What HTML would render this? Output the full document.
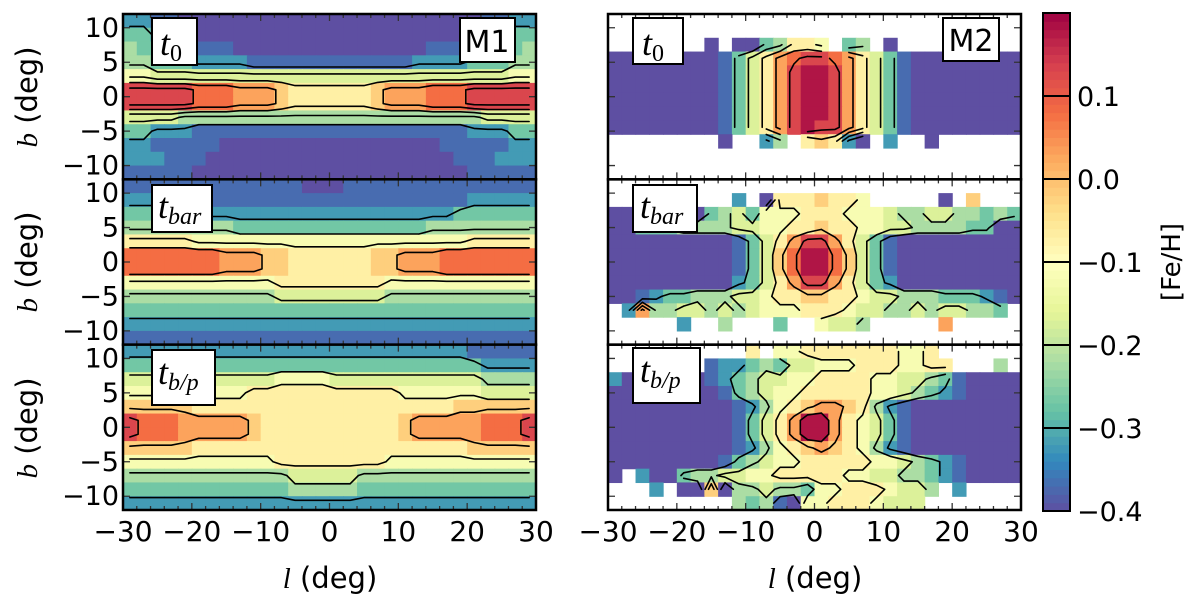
<!DOCTYPE html>
<html><head><meta charset="utf-8"><style>
html,body{margin:0;padding:0;background:#fff}
svg{display:block}
text{font-family:"DejaVu Sans","Liberation Sans",sans-serif;fill:#000}
</style></head><body>
<svg id="fig" width="1200" height="606" viewBox="0 0 1200 606" xmlns="http://www.w3.org/2000/svg">
<defs id="defs"></defs>
<g id="maps"></g>
<g id="cbar"></g>
</svg>
<script>
// ---- data: each char is one 2x2 deg cell; '0'..'9' => -0.42+0.05*d, 'a'=0.08,'b'=0.13,'c'=0.18, '.' = no data
const M1_T0 = [
"221100000000000000000000001122",
"332110000000000000000000011233",
"433221110000000000000011122334",
"443332222111111111111222233344",
"665555555555555555555555555566",
"bbbbbaaa999877777789 99aaabbbbb".replace(' ',''),
"bbbbbaaa999877777789 99aaabbbbb".replace(' ',''),
"555544444444444444444444445555",
"332221111111111111111111122233",
"221111100000000000000001111122",
"222111000000000000000000111222",
"111110000000000000000000011111"];
const M1_TBAR = [
"111111111111100011111111111111",
"222221111111111111111111122222",
"333333222222222222222222333333",
"444444443333333333333344444444",
"777776666666666666666666677777",
"aaaaaaa9998877777788999aaaaaaa",
"aaaaaaa9998877777788999aaaaaaa",
"666666666667777777766666666666",
"444444444445555555544444444444",
"333333333333333333333333333333",
"222222222222222222222222222222",
"111111111111111111111111111111"];
const M1_TBP = [
"222222222222222222222222211111",
"333333333333333333333333332222",
"555555555556666555555555554444",
"666666666777777777776666665555",
"888887777777777777777777888888",
"baaa9999987777777777899999aaab",
"baaa9999987777777777899999aaab",
"888887777777777777777777788888",
"666666666667777777766666666666",
"444444444444555554444444444444",
"333333333333444443333333333333",
"222222222222222222222222222222"];
const M2_T0 = [
"..............................",
".......0.0034776.34.0........",
"0000000013579abba9753100000000",
"0000000013579bccb9753100000000",
"0000000013579bccb9753100000000",
"0000000013579bccb9753100000000",
"0000000013579bccb9753100000000",
"0000000013579bcbb9753100000000",
"........0..24.78720.2..0......",
"..............................",
"..............................",
".............................."];
const M2_TBAR = [
"..............................",
".........2.07778776.....0.8....",
"0000000345366677766654455443434",
"003334444556677877665544443300",
"00000000013579bb975310000000000",
"0000000001358acca853100000000000",
"0000000001358acca853100000000000",
"00000000023579bb975320000000000",
"001233444556778877655444333210",
".2944554545666777655445455443.",
".....2..4...3..6554.....9.....",
".............................."];
const M2_TBP = [
"..........7.667777777667......",
".......1223435566677766 77...4.".replace(' ',''),
"2000000123455667777665543100000",
"000000001345667777766543210000",
"000000000124678998742100000000",
"00000000013579cc976531000000000",
"00000000013579cc976531000000000",
"000000000124678987642100000000",
"000000001345667777766543210000",
"0.2003445566777776655443210000",
"...2.0080445443667776554.2....",
".........434106677765 55.......".replace(' ','')];
const CB_TICKS = [0.1, 0.0, -0.1, -0.2, -0.3, -0.4];
const CONTOUR_LEVELS = [-0.3, -0.2, -0.1, 0.0, 0.1];
const X_TICKS = [-30, -20, -10, 0, 10, 20, 30];
const Y_TICKS = [10, 5, 0, -5, -10];
const VMIN = -0.4, VMAX = 0.2;

const NS = 'http://www.w3.org/2000/svg';
function mk(tag, attrs, parent){const e=document.createElementNS(NS,tag);for(const k in attrs)e.setAttribute(k,attrs[k]);if(parent)parent.appendChild(e);return e;}
function parseGrid(rows){return rows.map(r=>{let s=r;while(s.length<30)s+=s[s.length-1];s=s.slice(0,30);return s.split('').map(ch=>{if(ch==='.')return NaN;if(ch>='0'&&ch<='9')return -0.42+0.05*(+ch);return 0.08+0.05*(ch.charCodeAt(0)-97);});});}
const STOPS=[[94,79,162],[50,136,189],[102,194,165],[171,221,164],[230,245,152],[255,255,191],[254,224,139],[253,174,97],[244,109,67],[213,62,79],[158,1,66]];
function cmap(v){let t=(v-VMIN)/(VMAX-VMIN);t=Math.max(0,Math.min(1,t))*10;const i=Math.min(9,Math.floor(t)),f=t-i;const a=STOPS[i],b=STOPS[i+1];
 return 'rgb('+a.map((c,k)=>Math.round(c+(b[k]-c)*f)).join(',')+')';}

const LX0=123, LX1=536, RX0=608, RX1=1021, PH=165.33;
const TOPS=[14, 14+PH, 14+2*PH];
const panels=[
 {data:M1_T0,x0:LX0,x1:LX1,row:0,dy:0,name:'m1-t0'},
 {data:M1_TBAR,x0:LX0,x1:LX1,row:1,dy:0,name:'m1-tbar'},
 {data:M1_TBP,x0:LX0,x1:LX1,row:2,dy:0,name:'m1-tbp'},
 {data:M2_T0,x0:RX0,x1:RX1,row:0,dy:10,name:'m2-t0'},
 {data:M2_TBAR,x0:RX0,x1:RX1,row:1,dy:0,name:'m2-tbar'},
 {data:M2_TBP,x0:RX0,x1:RX1,row:2,dy:0,name:'m2-tbp'}];
const maps=document.getElementById('maps');
const defs=document.getElementById('defs');
panels.forEach((p,pi)=>{
 const top=TOPS[p.row];
 const cl=mk('clipPath',{id:'clip'+pi},defs);
 mk('rect',{x:p.x0,y:top,width:p.x1-p.x0,height:PH},cl);
 const g=mk('g',{},maps);
 
 
 const gm=mk('g',{'clip-path':'url(#clip'+pi+')'},g);
 const xs=l=>p.x0+(l+30)/60*(p.x1-p.x0);
 const ys=b=>top+(12-b)/24*PH;
 const ysd=b=>ys(b)+p.dy;
 const grid=parseGrid(p.data);
 const cw=(p.x1-p.x0)/30, ch=PH/12;
 grid.forEach((row,j)=>row.forEach((v,i)=>{
  if(isNaN(v))return;
  const l=-30+2*i, b=12-2*j;
  const r=mk('rect',{x:xs(l).toFixed(2),y:ysd(b).toFixed(2),width:(cw+0.6).toFixed(2),height:(ch+0.6).toFixed(2),fill:cmap(v)},gm);
  
  
 }));
 const cx=i=>xs(-29+2*i), cy=j=>ysd(11-2*j);
 let d='';
 CONTOUR_LEVELS.forEach(L=>{
  for(let j=0;j<11;j++)for(let i=0;i<29;i++){
   const P=[[i,j],[i+1,j],[i+1,j+1],[i,j+1]];
   const V=P.map(q=>grid[q[1]][q[0]]);
   if(V.some(isNaN))continue;
   const pts=[];
   for(let e=0;e<4;e++){const a=V[e],b=V[(e+1)%4];
    if((a>=L)!==(b>=L)){const t=(L-a)/(b-a);const A=P[e],B=P[(e+1)%4];
     pts.push([cx(A[0])+(cx(B[0])-cx(A[0]))*t, cy(A[1])+(cy(B[1])-cy(A[1]))*t]);}}
   for(let k=0;k+1<pts.length;k+=2)d+='M'+pts[k][0].toFixed(1)+' '+pts[k][1].toFixed(1)+'L'+pts[k+1][0].toFixed(1)+' '+pts[k+1][1].toFixed(1);
  }
 });
 const cp=mk('path',{d:d,stroke:'#000','stroke-width':1.6,fill:'none','stroke-linecap':'round'},gm);
 
 
 let td='';
 for(let l=-30;l<=30;l+=2){const len=(l%10===0)?7:4;td+='M'+xs(l)+' '+top+'v'+len+'M'+xs(l)+' '+(top+PH)+'v'+(-len);}
 Y_TICKS.forEach(b=>{td+='M'+p.x0+' '+ys(b)+'h7M'+p.x1+' '+ys(b)+'h-7';});
 mk('path',{d:td,stroke:'#333','stroke-width':1.3,fill:'none'},g);
 const fr=mk('rect',{x:p.x0,y:top,width:p.x1-p.x0,height:PH,fill:'none',stroke:'#000','stroke-width':2.5},g);
 
 
 if(p.x0===LX0){
  Y_TICKS.forEach(b=>{const t=mk('text',{x:119,y:ys(b)+9,'text-anchor':'end','font-size':27},g);t.textContent=(b<0?'\u2212':'')+Math.abs(b);
   
   });
 }
 if(p.row===2){
  X_TICKS.forEach(l=>{const t=mk('text',{x:xs(l),y:541,'text-anchor':'middle','font-size':28},g);t.textContent=(l<0?'\u2212':'')+Math.abs(l);
   
   });
 }
});
const cb=document.getElementById('cbar');
const CBX=1043, CBW=27, CBT=13, CBB=511;
const cby=v=>CBB-(v-VMIN)/(VMAX-VMIN)*(CBB-CBT);
for(let v=VMIN; v<VMAX-1e-9; v+=0.01){mk('rect',{x:CBX,y:cby(v+0.01).toFixed(2),width:CBW,height:(cby(v)-cby(v+0.01)+0.5).toFixed(2),fill:cmap(v+0.005)},cb);}
CB_TICKS.forEach(v=>{
 if(v>VMIN+0.001) mk('line',{x1:CBX,x2:CBX+CBW,y1:cby(v),y2:cby(v),stroke:'#000','stroke-width':2},cb);
 const t=mk('text',{x:1077,y:cby(v)+10,'font-size':27},cb);t.textContent=(v<0?'\u2212':'')+Math.abs(v).toFixed(1);
 
 
});
mk('rect',{x:CBX,y:CBT,width:CBW,height:CBB-CBT,fill:'none',stroke:'#000','stroke-width':2},cb);
</script>
<svg style="position:absolute;left:0;top:0" width="1200" height="606" viewBox="0 0 1200 606">
<g font-family="DejaVu Sans, sans-serif" fill="#000">
<text transform="translate(1180,262) rotate(-90)" text-anchor="middle" font-size="26" style="font-family:'DejaVu Sans',sans-serif">[Fe/H]</text>
<text transform="translate(37,97) rotate(-90)" text-anchor="middle" font-size="29"><tspan style="font-family:'Liberation Serif',serif;font-style:italic">b</tspan> (deg)</text>
<text transform="translate(37,262) rotate(-90)" text-anchor="middle" font-size="29"><tspan style="font-family:'Liberation Serif',serif;font-style:italic">b</tspan> (deg)</text>
<text transform="translate(37,428) rotate(-90)" text-anchor="middle" font-size="29"><tspan style="font-family:'Liberation Serif',serif;font-style:italic">b</tspan> (deg)</text>
<text x="330" y="588" text-anchor="middle" font-size="29"><tspan style="font-family:'Liberation Serif',serif;font-style:italic">l</tspan> (deg)</text>
<text x="815" y="588" text-anchor="middle" font-size="29"><tspan style="font-family:'Liberation Serif',serif;font-style:italic">l</tspan> (deg)</text>
</g>
<g><rect x="152" y="18" width="45" height="47" fill="#fff" stroke="#000" stroke-width="2"/><text x="160" y="55" font-size="36" style="font-family:'Liberation Serif',serif;font-style:italic">t<tspan font-size="24" dy="6" style="font-style:normal">0</tspan></text></g>
<g><rect x="460" y="18" width="55" height="44" fill="#fff" stroke="#000" stroke-width="2"/><text x="487" y="52" text-anchor="middle" font-size="30" style="font-family:'DejaVu Sans',sans-serif">M1</text></g>
<g><rect x="152" y="185" width="60" height="47" fill="#fff" stroke="#000" stroke-width="2"/><text x="158" y="218" font-size="36" style="font-family:'Liberation Serif',serif;font-style:italic">t<tspan font-size="24" dy="6">bar</tspan></text></g>
<g><rect x="152" y="350" width="63" height="55" fill="#fff" stroke="#000" stroke-width="2"/><text x="158" y="384" font-size="36" style="font-family:'Liberation Serif',serif;font-style:italic">t<tspan font-size="24" dy="6">b/p</tspan></text></g>
<g><rect x="633" y="18" width="50" height="46" fill="#fff" stroke="#000" stroke-width="2"/><text x="642" y="55" font-size="36" style="font-family:'Liberation Serif',serif;font-style:italic">t<tspan font-size="24" dy="6" style="font-style:normal">0</tspan></text></g>
<g><rect x="943" y="18" width="56" height="43" fill="#fff" stroke="#000" stroke-width="2"/><text x="971" y="51" text-anchor="middle" font-size="30" style="font-family:'DejaVu Sans',sans-serif">M2</text></g>
<g><rect x="633" y="185" width="64" height="47" fill="#fff" stroke="#000" stroke-width="2"/><text x="640" y="218" font-size="36" style="font-family:'Liberation Serif',serif;font-style:italic">t<tspan font-size="24" dy="6">bar</tspan></text></g>
<g><rect x="633" y="348" width="67" height="55" fill="#fff" stroke="#000" stroke-width="2"/><text x="640" y="382" font-size="36" style="font-family:'Liberation Serif',serif;font-style:italic">t<tspan font-size="24" dy="6">b/p</tspan></text></g>
</svg>
</body></html>
